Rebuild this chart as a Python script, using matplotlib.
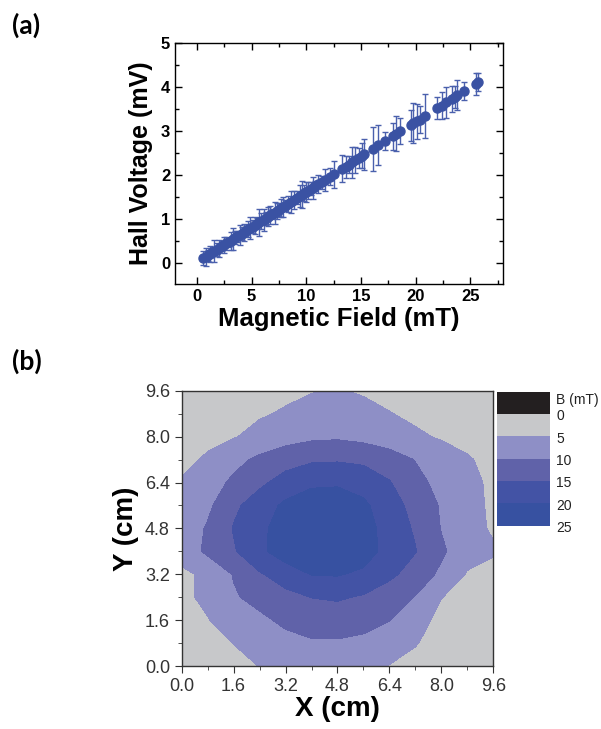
import numpy as np
import matplotlib
matplotlib.use("Agg")
import matplotlib.pyplot as plt
from matplotlib.ticker import MultipleLocator

# (a) Hall voltage vs magnetic field
field_mT = [0.6, 0.8, 1.0, 1.2, 1.4, 1.6, 1.8, 2.0, 2.3, 2.5, 2.7, 2.9, 3.1, 3.3,
            3.5, 3.7, 3.9, 4.1, 4.3, 4.5, 4.7, 4.9, 5.1, 5.3, 5.5, 5.7, 5.9, 6.1,
            6.3, 6.5, 6.7, 6.9, 7.1, 7.3, 7.5, 7.7, 7.9, 8.1, 8.3, 8.6, 8.9, 9.2,
            9.4, 9.6, 9.8, 10.0, 10.2, 10.4, 10.6, 10.8, 11.1, 11.4, 11.7, 12.2,
            12.5, 13.3, 13.6, 13.9, 14.2, 14.5, 14.8, 15.1, 15.3, 16.1, 16.6,
            17.2, 17.9, 18.2, 18.6, 19.6, 19.8, 20.1, 20.4, 20.9, 22.0, 22.4,
            22.8, 23.3, 23.6, 23.8, 24.4, 25.5, 25.7]
hall_mV = [0.12, 0.15, 0.18, 0.21, 0.25, 0.28, 0.31, 0.34, 0.39, 0.42, 0.45, 0.48,
           0.51, 0.55, 0.58, 0.61, 0.64, 0.67, 0.70, 0.74, 0.77, 0.80, 0.83, 0.86,
           0.90, 0.93, 0.96, 0.99, 1.02, 1.06, 1.09, 1.12, 1.15, 1.18, 1.22, 1.25,
           1.28, 1.31, 1.34, 1.39, 1.44, 1.49, 1.52, 1.56, 1.59, 1.62, 1.65, 1.69,
           1.72, 1.75, 1.80, 1.84, 1.89, 1.97, 2.02, 2.15, 2.19, 2.24, 2.29, 2.34,
           2.39, 2.44, 2.47, 2.60, 2.68, 2.77, 2.88, 2.94, 3.00, 3.13, 3.18, 3.22,
           3.26, 3.34, 3.52, 3.58, 3.65, 3.73, 3.78, 3.82, 3.91, 4.08, 4.12]
hall_err = [0.15, 0.2, 0.12, 0.18, 0.1, 0.25, 0.15, 0.2, 0.12, 0.18, 0.15, 0.1,
            0.2, 0.25, 0.15, 0.12, 0.22, 0.15, 0.2, 0.1, 0.18, 0.25, 0.15, 0.2,
            0.12, 0.3, 0.18, 0.25, 0.15, 0.22, 0.2, 0.12, 0.25, 0.18, 0.15, 0.2,
            0.22, 0.12, 0.18, 0.25, 0.2, 0.15, 0.25, 0.3, 0.18, 0.22, 0.2, 0.15,
            0.25, 0.12, 0.2, 0.15, 0.25, 0.2, 0.3, 0.3, 0.25, 0.2, 0.35, 0.3, 0.22,
            0.28, 0.35, 0.5, 0.45, 0.2, 0.3, 0.4, 0.3, 0.35, 0.45, 0.4, 0.3, 0.5,
            0.25, 0.3, 0.35, 0.3, 0.25, 0.35, 0.2, 0.25, 0.2]

# (b) field map
pos_cm = [0.0, 0.8, 1.6, 2.4, 3.2, 4.0, 4.8, 5.6, 6.4, 7.2, 8.0, 8.8, 9.6]
B_map = [
    [1.5, 2, 3.5, 5.1, 6.5, 7, 7, 6.5, 4.8, 3.5, 2.5, 2, 1.5],
    [2, 3, 5.1, 7, 8.5, 9.5, 9.5, 9, 8, 5.3, 3, 2.5, 2],
    [3, 4.8, 7, 9, 11, 12, 12.3, 11.5, 10.1, 6.5, 4, 3, 2.5],
    [4, 6, 9.5, 11.5, 13.5, 15.1, 15.6, 14.5, 12.5, 9.8, 5.1, 3.5, 3],
    [4, 6, 10.3, 14.5, 17.5, 20.2, 20.4, 19, 16, 13, 9, 4.6, 3.5],
    [7, 11, 14.5, 19, 22.5, 23.5, 24, 22.5, 18, 15.2, 10.8, 7, 5.5],
    [7, 10.5, 15.3, 19, 22, 24, 24.5, 22.5, 17.5, 14.5, 9.8, 6.5, 4.5],
    [6.5, 9, 14, 17.5, 21, 23, 23, 21, 17, 13.5, 9.5, 7, 4],
    [5.5, 7.5, 11, 14, 17, 19, 19.3, 18, 15.3, 11.5, 8.5, 6.5, 4],
    [3.5, 5.8, 8.5, 11, 13, 14.3, 14.5, 14, 12.5, 9.8, 7.5, 5.5, 3.5],
    [2.5, 3.5, 4.7, 6.5, 8, 9, 9.3, 8.5, 7, 5.8, 4.5, 3.5, 3],
    [1.5, 2.5, 3.5, 4.5, 5.5, 6.5, 7, 6.5, 5.2, 4, 3.5, 3, 2.5],
    [1, 1.5, 2, 3, 4, 4.8, 5.3, 4.5, 3.5, 3, 2.5, 2, 1.5],
]
levels = [0, 5, 10, 15, 20, 25]
level_colors = ["#c7c8ca", "#8e8fc6", "#6062a9", "#4353a5", "#3751a1"]
legend_labels = ["B (mT)", "0", "5", "10", "15", "20", "25"]

blue = "#3a52a3"
sans = "Liberation Sans"

fig = plt.figure(figsize=(6.01, 7.29), dpi=100)

# ---- panel (a)
ax1 = fig.add_axes([0.2912, 0.6104, 0.5458, 0.3306])
ax1.errorbar(field_mT, hall_mV, yerr=hall_err, fmt="o", color=blue, ms=6.5,
             ecolor="#4a60ad", elinewidth=1.0, capsize=2.5, capthick=1.0)
ax1.set_xlim(-2, 28)
ax1.set_ylim(-0.47, 5)
ax1.xaxis.set_major_locator(MultipleLocator(5))
ax1.xaxis.set_minor_locator(MultipleLocator(2.5))
ax1.yaxis.set_major_locator(MultipleLocator(1))
ax1.yaxis.set_minor_locator(MultipleLocator(0.5))
ax1.tick_params(which="both", direction="in", top=True, right=True)
ax1.tick_params(which="major", length=5, width=1)
ax1.tick_params(which="minor", length=3, width=1)
for lab in ax1.get_xticklabels() + ax1.get_yticklabels():
    lab.set_fontfamily(sans)
    lab.set_fontweight("bold")
    lab.set_fontsize(12)
for s in ax1.spines.values():
    s.set_linewidth(1.0)
ax1.set_xlabel("Magnetic Field (mT)", fontsize=18.5, fontweight="bold",
               family=sans, labelpad=2)
ax1.set_ylabel("Hall Voltage (mV)", fontsize=18, fontweight="bold",
               family=sans, labelpad=6)

# ---- panel (b)
ax2 = fig.add_axes([0.3023, 0.0864, 0.5185, 0.3776])
ax2.contourf(pos_cm, pos_cm, np.array(B_map), levels=levels, colors=level_colors)
ax2.set_xlim(0, 9.6)
ax2.set_ylim(0, 9.6)
ax2.set_xticks(pos_cm[::2])
ax2.set_yticks(pos_cm[::2])
ax2.xaxis.set_minor_locator(MultipleLocator(0.8))
ax2.yaxis.set_minor_locator(MultipleLocator(0.8))
ax2.set_xticklabels(["%.1f" % v for v in pos_cm[::2]])
ax2.set_yticklabels(["%.1f" % v for v in pos_cm[::2]])
ax2.tick_params(which="both", direction="out", colors="#333333",
                labelcolor="#333333")
ax2.tick_params(which="major", length=5, labelsize=13)
ax2.tick_params(which="minor", length=3)
for lab in ax2.get_xticklabels() + ax2.get_yticklabels():
    lab.set_fontfamily(sans)
for s in ax2.spines.values():
    s.set_color("#333333")
    s.set_linewidth(1.0)
ax2.set_xlabel("X (cm)", fontsize=20, fontweight="bold", family=sans, labelpad=1)
ax2.set_ylabel("Y (cm)", fontsize=20, fontweight="bold", family=sans, labelpad=4)

# legend boxes
axl = fig.add_axes([0.8265, 0.2789, 0.0887, 0.1838])
box_colors = ["#231f20"] + level_colors
n = len(box_colors)
axl.bar([0] * n, [1] * n, bottom=list(range(n - 1, -1, -1)), width=1,
        color=box_colors, align="edge")
axl.set_xlim(0, 1)
axl.set_ylim(0, n)
axl.axis("off")
axl.text(1.12, n - 0.05, legend_labels[0], ha="left", va="top", fontsize=10,
         family=sans, color="#222222")
for i, lab in enumerate(legend_labels[1:]):
    axl.text(1.12, n - 1 - i - 0.1, lab, ha="left", va="center", fontsize=10,
             family=sans, color="#222222")

fig.text(0.02, 0.965, "(a)", fontsize=19, fontweight="bold", family="Lato",
         va="center")
fig.text(0.02, 0.505, "(b)", fontsize=19, fontweight="bold", family="Lato",
         va="center")

fig.savefig("out.png", dpi=100)
